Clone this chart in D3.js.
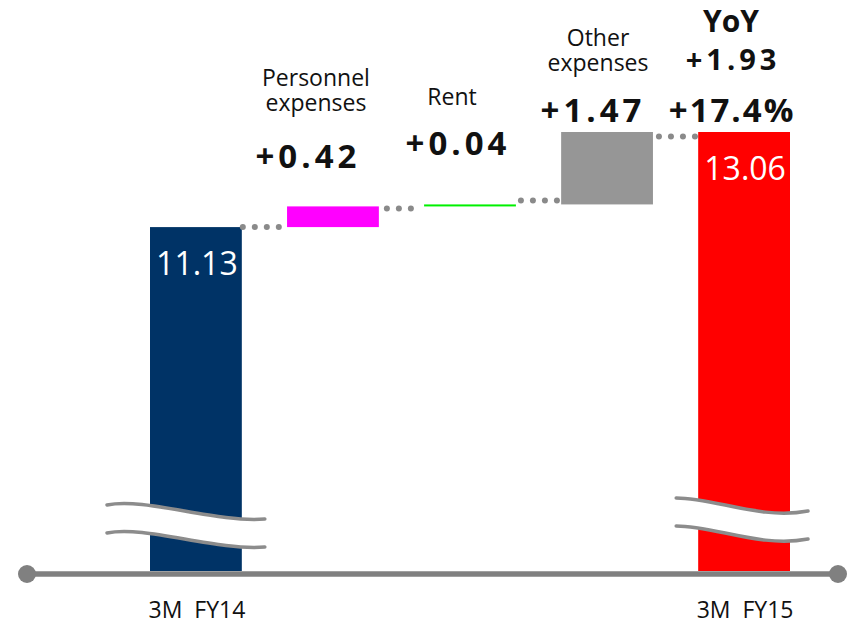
<!DOCTYPE html>
<html>
<head>
<meta charset="utf-8">
<script src="https://cdn.jsdelivr.net/npm/d3@7"></script>
<style>
  html, body { margin: 0; padding: 0; background: #ffffff; }
  svg { display: block; font-family: "Open Sans", "Noto Sans", sans-serif; }
</style>
</head>
<body>
<svg id="chart" width="850" height="625"></svg>
<script>
// ---- data -------------------------------------------------------------
const categories = ["3M FY14", "Personnel expenses", "Rent", "Other expenses", "3M FY15"];
const values     = [11.13, 0.42, 0.04, 1.47, 13.06];
const kinds      = ["total", "delta", "delta", "delta", "total"];
const barColors  = ["#003366", "#ff00ff", "#00f000", "#969696", "#ff0000"];
const yoyTitle   = "YoY";
const yoyChange  = 1.93;
const yoyPercent = 17.4;
const axisFloor  = 4.15;   // value at the broken baseline

// ---- layout -----------------------------------------------------------
const svg = d3.select("#chart");

const x = d3.scaleBand()
  .domain(categories)
  .range([150, 790])
  .paddingInner(0.33)
  .paddingOuter(0);

const y = d3.scaleLinear()
  .domain([axisFloor, d3.max(values)])
  .range([571, 132]);

const bw = x.bandwidth();
const fmt2 = d3.format(".2f");

// running totals for the waterfall steps
let running = 0;
const rows = categories.map((c, i) => {
  let lo, hi;
  if (kinds[i] === "total") {
    lo = axisFloor; hi = values[i]; running = values[i];
  } else {
    lo = running; hi = running + values[i]; running = hi;
  }
  return { cat: c, value: values[i], kind: kinds[i], lo, hi, end: running, color: barColors[i] };
});

// ---- bars ---------------------------------------------------------------
svg.append("g").selectAll("rect")
  .data(rows)
  .join("rect")
  .attr("x", d => x(d.cat))
  .attr("width", bw)
  .attr("y", d => y(d.hi))
  .attr("height", d => Math.max(2, y(d.lo) - y(d.hi)))
  .attr("fill", d => d.color);

// ---- dotted connectors between consecutive steps -----------------------
const connectorStyle = [
  { n: 4, start: 1, dy: 0 },
  { n: 3, start: 8, dy: 2 },
  { n: 4, start: 5, dy: -4 },
  { n: 4, start: 6, dy: 4.5 }
];
const dots = [];
rows.slice(0, -1).forEach((d, i) => {
  const s = connectorStyle[i];
  const x0 = x(d.cat) + bw + s.start;
  for (let k = 0; k < s.n; k++) {
    dots.push({ cx: x0 + k * 12, cy: y(d.end) + s.dy });
  }
});
svg.append("g").selectAll("circle")
  .data(dots)
  .join("circle")
  .attr("cx", d => d.cx)
  .attr("cy", d => d.cy)
  .attr("r", 3)
  .attr("fill", "#8a8a8a");

// ---- axis break marks on the total bars --------------------------------
const breakShapes = {
  "3M FY14": { left: 43, right: 23, top: 505, c1: [38, -8], c2: [108, 18], endDy: 14 },
  "3M FY15": { left: 22, right: 18, top: 498, c1: [39, 0],  c2: [84, 22],  endDy: 13 }
};
const gap = 28;
const breakG = svg.append("g");
rows.filter(d => d.kind === "total").forEach(d => {
  const b = breakShapes[d.cat];
  const xl = x(d.cat) - b.left, xr = x(d.cat) + bw + b.right;
  const y0 = b.top, y1 = b.top + b.endDy;
  const c1 = [xl + b.c1[0], y0 + b.c1[1]], c2 = [xl + b.c2[0], y0 + b.c2[1]];
  const curve = dy => `M${xl},${y0 + dy} C${c1[0]},${c1[1] + dy} ${c2[0]},${c2[1] + dy} ${xr},${y1 + dy}`;
  const band = `${curve(0)} L${xr},${y1 + gap} C${c2[0]},${c2[1] + gap} ${c1[0]},${c1[1] + gap} ${xl},${y0 + gap} Z`;
  breakG.append("path").attr("d", band).attr("fill", "#ffffff");
  [0, gap].forEach(dy => {
    breakG.append("path")
      .attr("d", curve(dy))
      .attr("fill", "none")
      .attr("stroke", "#8c8c8c")
      .attr("stroke-width", 3.5)
      .attr("stroke-linecap", "round");
  });
});

// ---- baseline axis ------------------------------------------------------
const axisY = 574;
svg.append("line")
  .attr("x1", 27).attr("x2", 838)
  .attr("y1", axisY).attr("y2", axisY)
  .attr("stroke", "#808080")
  .attr("stroke-width", 5.5);
svg.append("g").selectAll("circle")
  .data([27, 838])
  .join("circle")
  .attr("cx", d => d).attr("cy", axisY).attr("r", 9)
  .attr("fill", "#808080");

// category labels under the totals
svg.append("g").selectAll("text")
  .data(rows.filter(d => d.kind === "total"))
  .join("text")
  .attr("x", d => x(d.cat) + bw / 2 + 1)
  .attr("y", 618)
  .attr("text-anchor", "middle")
  .attr("font-size", 23)
  .attr("fill", "#111")
  .style("white-space", "pre")
  .text(d => d.cat.replace(" ", "  "));

// values inside the total bars
svg.append("g").selectAll("text")
  .data(rows.filter(d => d.kind === "total"))
  .join("text")
  .attr("x", d => x(d.cat) + bw / 2 + 1)
  .attr("y", d => y(d.hi) + 48)
  .attr("text-anchor", "middle")
  .attr("font-size", 32)
  .attr("fill", "#ffffff")
  .text(d => fmt2(d.value));

// ---- step annotations ---------------------------------------------------
const annot = {
  "Personnel expenses": { dx: -17, nameY: 86,  vdx: -25, valueY: 168 },
  "Rent":               { dx: -18, nameY: 105, vdx: -12, valueY: 155 },
  "Other expenses":     { dx: -9,  nameY: 46,  vdx: -14, valueY: 122 }
};
const annG = svg.append("g");
rows.filter(d => d.kind === "delta").forEach(d => {
  const a = annot[d.cat];
  const cx = x(d.cat) + bw / 2;
  // category name, wrapped one word per line
  const name = annG.append("text")
    .attr("y", a.nameY)
    .attr("text-anchor", "middle")
    .attr("font-size", 23)
    .attr("fill", "#111");
  d.cat.split(" ").forEach((word, k) => {
    name.append("tspan")
      .attr("x", cx + a.dx)
      .attr("dy", k === 0 ? 0 : 25)
      .text(word);
  });
  annG.append("text")
    .attr("x", cx + a.vdx)
    .attr("y", a.valueY)
    .attr("text-anchor", "middle")
    .attr("font-size", 33)
    .attr("font-weight", "bold")
    .attr("letter-spacing", 4)
    .attr("fill", "#111")
    .text("+" + fmt2(d.value));
});

// year-on-year summary above the last total
const last = rows[rows.length - 1];
const yx = x(last.cat) + bw / 2 - 13;
annG.append("text")
  .attr("x", yx).attr("y", 32)
  .attr("text-anchor", "middle")
  .attr("font-size", 30).attr("font-weight", "bold").attr("fill", "#111")
  .text(yoyTitle);
annG.append("text")
  .attr("x", yx + 2).attr("y", 70)
  .attr("text-anchor", "middle")
  .attr("font-size", 29).attr("font-weight", "bold").attr("letter-spacing", 4).attr("fill", "#111")
  .text("+" + fmt2(yoyChange));
annG.append("text")
  .attr("x", yx + 1).attr("y", 122)
  .attr("text-anchor", "middle")
  .attr("font-size", 33).attr("font-weight", "bold").attr("letter-spacing", 2).attr("fill", "#111")
  .text("+" + d3.format(".1f")(yoyPercent) + "%");
</script>
</body>
</html>
